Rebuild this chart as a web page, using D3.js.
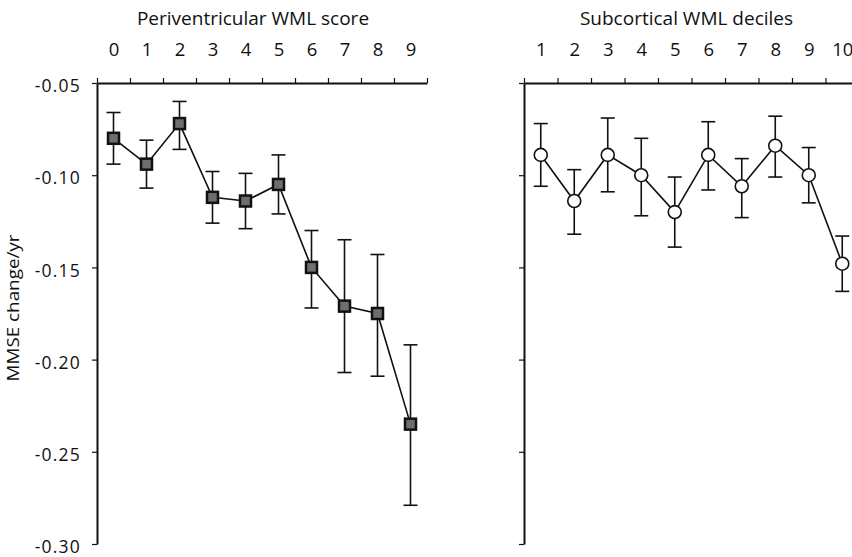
<!DOCTYPE html>
<html>
<head>
<meta charset="utf-8">
<script src="https://cdn.jsdelivr.net/npm/d3@7"></script>
<style>
  html, body { margin: 0; padding: 0; background: #fff; }
  svg { display: block; }
  text { font-family: "Open Sans", "Lato", sans-serif; fill: #111; }
</style>
</head>
<body>
<svg id="chart" width="852" height="557"></svg>
<script>
// Periventricular WML score (0-9): mean MMSE change per year with 95% CI
const periScores = [0, 1, 2, 3, 4, 5, 6, 7, 8, 9];
const periMean   = [-0.080, -0.094, -0.072, -0.112, -0.114, -0.105, -0.150, -0.171, -0.175, -0.235];
const periLow    = [-0.094, -0.107, -0.086, -0.126, -0.129, -0.121, -0.172, -0.207, -0.209, -0.279];
const periHigh   = [-0.066, -0.081, -0.060, -0.098, -0.099, -0.089, -0.130, -0.135, -0.143, -0.192];

// Subcortical WML deciles (1-10)
const subDeciles = [1, 2, 3, 4, 5, 6, 7, 8, 9, 10];
const subMean    = [-0.089, -0.114, -0.089, -0.100, -0.120, -0.089, -0.106, -0.084, -0.100, -0.148];
const subLow     = [-0.106, -0.132, -0.109, -0.122, -0.139, -0.108, -0.123, -0.101, -0.115, -0.163];
const subHigh    = [-0.072, -0.097, -0.069, -0.080, -0.101, -0.071, -0.091, -0.068, -0.085, -0.133];

const yTicks = [-0.05, -0.10, -0.15, -0.20, -0.25, -0.30];
const yTitle = "MMSE change/yr";
const periTitle = "Periventricular WML score";
const subTitle = "Subcortical WML deciles";

const svg = d3.select("#chart");
const plotTop = 83, plotBottom = 544;

const y = d3.scaleLinear().domain([-0.05, -0.30]).range([plotTop, plotBottom]);

const xPeri = d3.scaleLinear().domain([-0.5, 9.5]).range([97, 427]);
const xSub  = d3.scaleLinear().domain([0.5, 10.5]).range([524, 859]);

const fmt = v => (v < 0 ? "-" : "") + Math.abs(v).toFixed(2);

function panel(x, cats, mean, low, high, title, titleShift, marker, showYLabels) {
  const g = svg.append("g");
  const [x0, x1] = x.range();

  // Top axis: small ticks between categories, category labels above
  const between = d3.range(cats.length + 1).map(i => cats[0] - 0.5 + i);
  const tickAxis = d3.axisTop(x).tickValues(between).tickFormat("").tickSizeInner(5).tickSizeOuter(0);
  const ta = g.append("g").attr("transform", `translate(0,${plotTop})`).call(tickAxis);
  ta.select(".domain").attr("stroke", "#111").attr("stroke-width", 2);
  ta.selectAll(".tick line").attr("stroke", "#111").attr("stroke-width", 1.2);

  const labAxis = d3.axisTop(x).tickValues(cats).tickFormat(d3.format("d")).tickSize(0).tickPadding(27);
  const la = g.append("g").attr("transform", `translate(0,${plotTop})`).call(labAxis);
  la.select(".domain").remove();
  la.selectAll("text").attr("font-size", 18.5).attr("font-family", "Open Sans, Lato, sans-serif").attr("fill", "#111");

  g.append("text")
    .attr("x", (x0 + x1) / 2 + titleShift).attr("y", 25)
    .attr("text-anchor", "middle").attr("font-size", 19)
    .text(title);

  // Left axis
  const yAxis = d3.axisLeft(y).tickValues(yTicks).tickSizeInner(5).tickSizeOuter(0).tickPadding(11)
    .tickFormat(showYLabels ? fmt : "");
  const ya = g.append("g").attr("transform", `translate(${x0},0)`).call(yAxis);
  ya.select(".domain").attr("stroke", "#111").attr("stroke-width", 2);
  ya.selectAll(".tick line").attr("stroke", "#111").attr("stroke-width", 1.2);
  ya.selectAll("text").attr("font-size", 17.5).attr("letter-spacing", 1.2).attr("dy", "0.5em")
    .attr("font-family", "Open Sans, Lato, sans-serif").attr("fill", "#111");

  // Error bars
  const capW = 7;
  const eb = g.append("g").attr("stroke", "#111").attr("stroke-width", 1.6).attr("fill", "none");
  cats.forEach((c, i) => {
    const cx = x(c);
    eb.append("line").attr("x1", cx).attr("x2", cx).attr("y1", y(high[i])).attr("y2", y(low[i]));
    eb.append("line").attr("x1", cx - capW).attr("x2", cx + capW).attr("y1", y(high[i])).attr("y2", y(high[i]));
    eb.append("line").attr("x1", cx - capW).attr("x2", cx + capW).attr("y1", y(low[i])).attr("y2", y(low[i]));
  });

  // Connecting line
  const line = d3.line().x((d, i) => x(cats[i])).y(d => y(d));
  g.append("path").datum(mean).attr("d", line)
    .attr("fill", "none").attr("stroke", "#111").attr("stroke-width", 1.6);

  // Markers
  if (marker === "square") {
    const s = 11;
    g.selectAll("rect.m").data(mean).join("rect")
      .attr("x", (d, i) => x(cats[i]) - s / 2)
      .attr("y", d => y(d) - s / 2)
      .attr("width", s).attr("height", s)
      .attr("fill", "#6e6e6e").attr("stroke", "#111").attr("stroke-width", 2.5);
  } else {
    g.selectAll("circle.m").data(mean).join("circle")
      .attr("cx", (d, i) => x(cats[i]))
      .attr("cy", d => y(d))
      .attr("r", 6.5)
      .attr("fill", "#fff").attr("stroke", "#111").attr("stroke-width", 1.6);
  }
}

panel(xPeri, periScores, periMean, periLow, periHigh, periTitle, -9, "square", true);
panel(xSub, subDeciles, subMean, subLow, subHigh, subTitle, -5, "circle", false);

svg.append("text")
  .attr("transform", `translate(19,308) rotate(-90)`)
  .attr("text-anchor", "middle").attr("font-size", 16)
  .attr("textLength", 147).attr("lengthAdjust", "spacingAndGlyphs")
  .text(yTitle);
</script>
</body>
</html>
